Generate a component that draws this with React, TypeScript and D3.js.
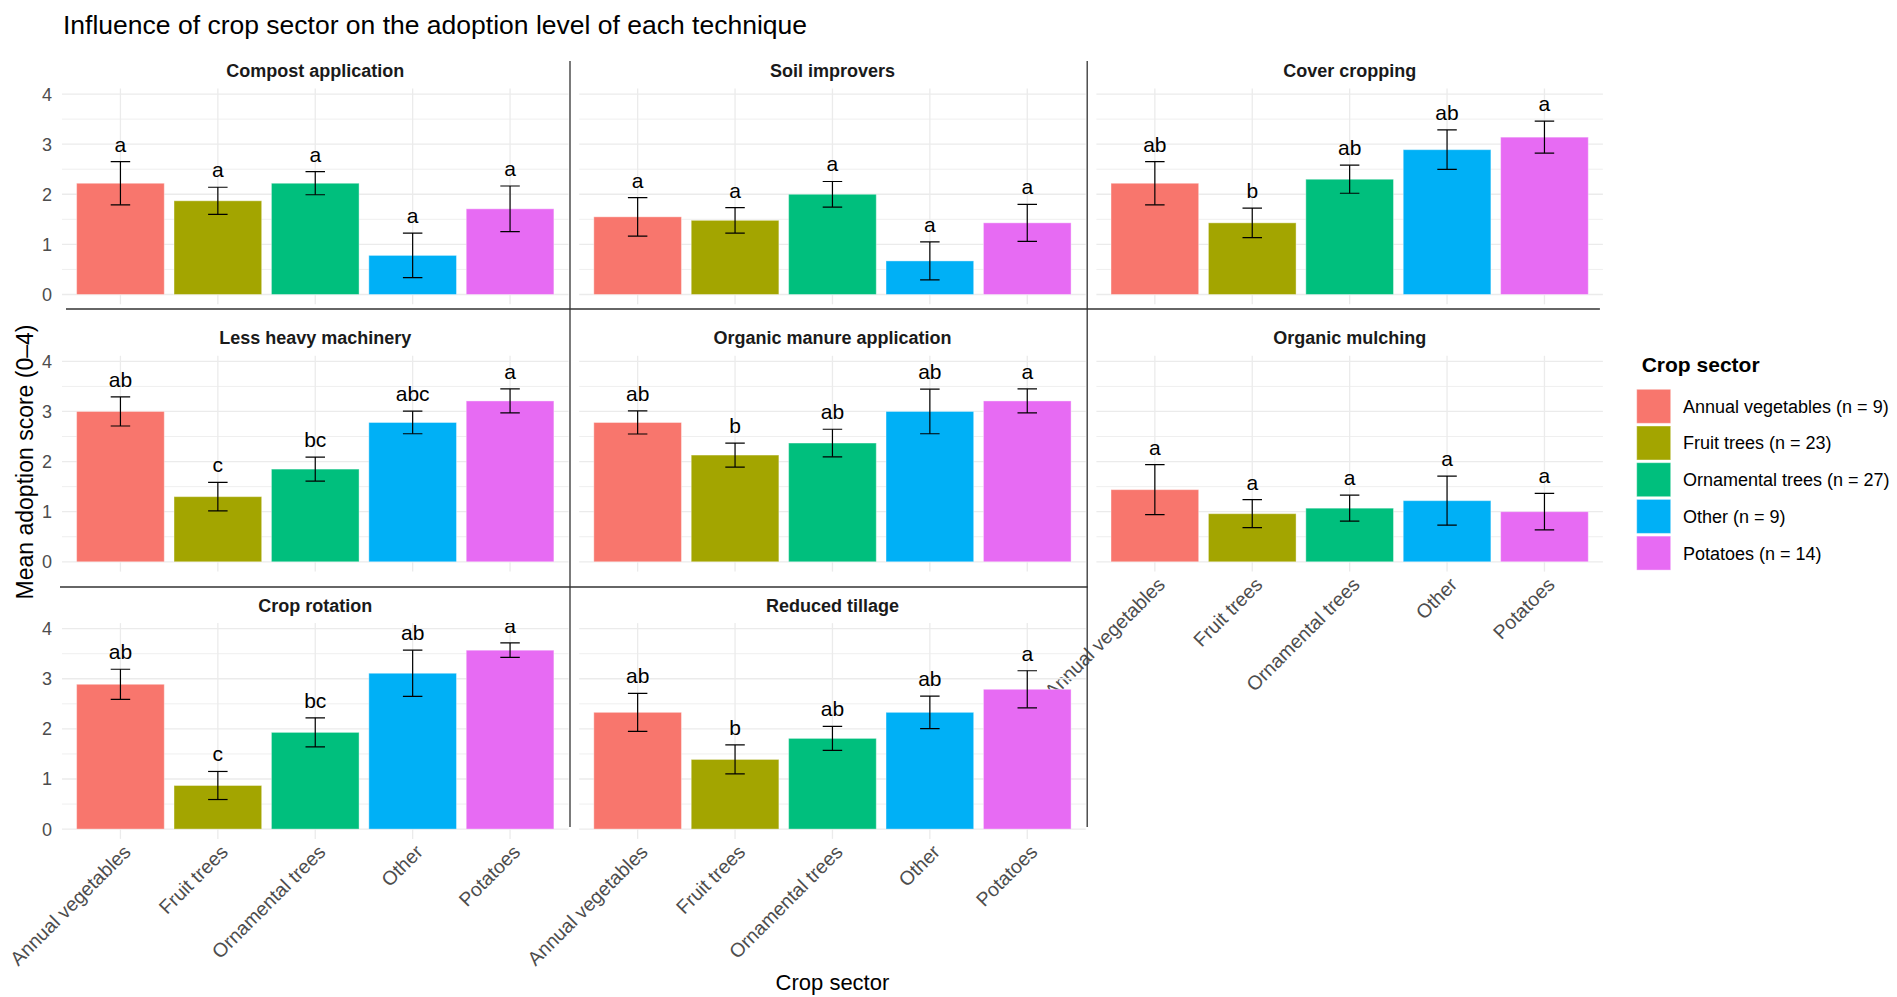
import { useEffect, useRef } from "react";
import * as d3 from "d3";

// Crop sectors (x categories / fill)
const SECTORS = ["Annual vegetables", "Fruit trees", "Ornamental trees", "Other", "Potatoes"];
const SECTOR_N = [9, 23, 27, 9, 14];
const SECTOR_COLORS = ["#F8766D", "#A3A500", "#00BF7D", "#00B0F6", "#E76BF3"];

// Facets, in reading order
const TECHNIQUES = [
  "Compost application",
  "Soil improvers",
  "Cover cropping",
  "Less heavy machinery",
  "Organic manure application",
  "Organic mulching",
  "Crop rotation",
  "Reduced tillage"
];

// Mean adoption score per technique (rows) and sector (columns)
const MEANS = [
  [2.22, 1.87, 2.22, 0.78, 1.71],
  [1.55, 1.48, 2.00, 0.67, 1.43],
  [2.22, 1.43, 2.30, 2.89, 3.14],
  [3.00, 1.30, 1.85, 2.78, 3.21],
  [2.78, 2.13, 2.37, 3.00, 3.21],
  [1.44, 0.96, 1.07, 1.22, 1.00],
  [2.89, 0.87, 1.93, 3.11, 3.57],
  [2.33, 1.39, 1.81, 2.33, 2.79]
];

// Standard errors
const SE = [
  [0.43, 0.27, 0.23, 0.445, 0.455],
  [0.385, 0.255, 0.255, 0.38, 0.37],
  [0.43, 0.295, 0.28, 0.395, 0.32],
  [0.29, 0.285, 0.24, 0.225, 0.24],
  [0.23, 0.24, 0.275, 0.445, 0.24],
  [0.50, 0.28, 0.26, 0.49, 0.365],
  [0.30, 0.28, 0.29, 0.46, 0.145],
  [0.38, 0.29, 0.24, 0.325, 0.37]
];

// Compact letter display
const LETTERS = [
  ["a", "a", "a", "a", "a"],
  ["a", "a", "a", "a", "a"],
  ["ab", "b", "ab", "ab", "a"],
  ["ab", "c", "bc", "abc", "a"],
  ["ab", "b", "ab", "ab", "a"],
  ["a", "a", "a", "a", "a"],
  ["ab", "c", "bc", "ab", "a"],
  ["ab", "b", "ab", "ab", "a"]
];

const Y_TICKS = [0, 1, 2, 3, 4];
const Y_MINOR = [0.5, 1.5, 2.5, 3.5];
const LABEL_OFFSET = 0.2;

const WIDTH = 1897;
const HEIGHT = 997;
const FONT = "'Liberation Sans', Arial, Helvetica, sans-serif";
const N_COLS = 3;

const App = () => {
  const svgRef = useRef<SVGSVGElement>(null);

  useEffect(() => {
    if (!svgRef.current) return;
    const svg = d3.select(svgRef.current);
    svg.selectAll("*").remove();

    // panel grid geometry
    const left = 62;
    const top = 88.5;
    const panelW = 506.5;
    const panelH = 215.8;
    const colStep = 517.2;
    const rowStep = 267.3;

    // fixed y scale shared by all facets (ggplot-like 5% expansion)
    const maxLabel = d3.max(MEANS.flatMap((row, i) => row.map((m, j) => m + SE[i][j] + LABEL_OFFSET))) as number;
    const lo = 0 - maxLabel * 0.05;
    const hi = maxLabel + maxLabel * 0.05;

    const xScale = d3
      .scaleBand<string>()
      .domain(SECTORS)
      .range([0, panelW])
      .paddingInner(0.1)
      .paddingOuter(0.15);

    const yScale = d3.scaleLinear().domain([lo, hi]).range([panelH, 0]);

    const colorScale = d3.scaleOrdinal<string, string>().domain(SECTORS).range(SECTOR_COLORS);

    svg.append("rect").attr("width", WIDTH).attr("height", HEIGHT).attr("fill", "#ffffff");

    // Title
    svg
      .append("text")
      .attr("x", 63)
      .attr("y", 34)
      .style("font-family", FONT)
      .style("font-size", "26.5px")
      .attr("fill", "#000")
      .text("Influence of crop sector on the adoption level of each technique");

    const defs = svg.append("defs");
    defs
      .append("clipPath")
      .attr("id", "panel-clip")
      .append("rect")
      .attr("x", 0)
      .attr("y", 0)
      .attr("width", panelW)
      .attr("height", panelH);

    const nRows = Math.ceil(TECHNIQUES.length / N_COLS);

    TECHNIQUES.forEach((tech, k) => {
      const col = k % N_COLS;
      const row = Math.floor(k / N_COLS);
      const px = left + col * colStep;
      const py = top + row * rowStep;
      const g = svg.append("g").attr("transform", `translate(${px},${py})`);

      // grid
      g.selectAll(".minor")
        .data(Y_MINOR)
        .enter()
        .append("line")
        .attr("x1", 0)
        .attr("x2", panelW)
        .attr("y1", (d) => yScale(d))
        .attr("y2", (d) => yScale(d))
        .attr("stroke", "#EFEFEF")
        .attr("stroke-width", 1);

      g.selectAll(".major")
        .data(Y_TICKS)
        .enter()
        .append("line")
        .attr("x1", 0)
        .attr("x2", panelW)
        .attr("y1", (d) => yScale(d))
        .attr("y2", (d) => yScale(d))
        .attr("stroke", "#EBEBEB")
        .attr("stroke-width", 1.3);

      g.selectAll(".vgrid")
        .data(SECTORS)
        .enter()
        .append("line")
        .attr("x1", (d) => (xScale(d) ?? 0) + xScale.bandwidth() / 2)
        .attr("x2", (d) => (xScale(d) ?? 0) + xScale.bandwidth() / 2)
        .attr("y1", 0)
        .attr("y2", panelH)
        .attr("stroke", "#EBEBEB")
        .attr("stroke-width", 1.3);

      const rows = SECTORS.map((s, j) => ({
        sector: s,
        mean: MEANS[k][j],
        se: SE[k][j],
        letter: LETTERS[k][j]
      }));

      // bars
      g.selectAll(".bar")
        .data(rows)
        .enter()
        .append("rect")
        .attr("x", (d) => xScale(d.sector) ?? 0)
        .attr("width", xScale.bandwidth())
        .attr("y", (d) => yScale(d.mean))
        .attr("height", (d) => yScale(0) - yScale(d.mean))
        .attr("fill", (d) => colorScale(d.sector))
        .attr("stroke", "#ffffff")
        .attr("stroke-opacity", 0.4)
        .attr("stroke-width", 1);

      // error bars + letters (clipped to the panel, like ggplot)
      const cap = xScale.step() * 0.2;
      const eb = g.append("g").attr("clip-path", "url(#panel-clip)");
      rows.forEach((d) => {
        const cx = (xScale(d.sector) ?? 0) + xScale.bandwidth() / 2;
        const yTop = yScale(d.mean + d.se);
        const yBot = yScale(d.mean - d.se);
        eb.append("line")
          .attr("x1", cx)
          .attr("x2", cx)
          .attr("y1", yTop)
          .attr("y2", yBot)
          .attr("stroke", "#000")
          .attr("stroke-width", 1.2);
        [yTop, yBot].forEach((yy) => {
          eb.append("line")
            .attr("x1", cx - cap / 2)
            .attr("x2", cx + cap / 2)
            .attr("y1", yy)
            .attr("y2", yy)
            .attr("stroke", "#000")
            .attr("stroke-width", 1.2);
        });
        eb.append("text")
          .attr("x", cx)
          .attr("y", yScale(d.mean + d.se + LABEL_OFFSET))
          .attr("text-anchor", "middle")
          .style("font-family", FONT)
          .style("font-size", "21px")
          .attr("fill", "#000")
          .text(d.letter);
      });

      // strip title
      g.append("text")
        .attr("x", panelW / 2)
        .attr("y", -11.5)
        .attr("text-anchor", "middle")
        .style("font-family", FONT)
        .style("font-size", "18px")
        .style("font-weight", "700")
        .attr("fill", "#1A1A1A")
        .text(tech);

      // y axis labels on the first column
      if (col === 0) {
        g.selectAll(".ytick")
          .data(Y_TICKS)
          .enter()
          .append("text")
          .attr("x", -10)
          .attr("y", (d) => yScale(d))
          .attr("dy", "0.36em")
          .attr("text-anchor", "end")
          .style("font-family", FONT)
          .style("font-size", "18px")
          .attr("fill", "#4D4D4D")
          .text((d) => String(d));
      }

      // x axis labels on the lowest panel of each column
      const lastInCol = k + N_COLS >= TECHNIQUES.length;
      if (lastInCol || row === nRows - 1) {
        g.selectAll(".xtick")
          .data(SECTORS)
          .enter()
          .append("text")
          .attr("transform", (d) => {
            const cx = (xScale(d) ?? 0) + xScale.bandwidth() / 2 + 1;
            return `translate(${cx},${panelH + 4}) rotate(-45)`;
          })
          .attr("dy", "0.75em")
          .attr("text-anchor", "end")
          .style("font-family", FONT)
          .style("font-size", "19.5px")
          .attr("fill", "#4D4D4D")
          .text((d) => d);
      }
    });

    // separator lines between facets
    const lineColor = "#333333";
    const bottom3 = top + 2 * rowStep + yScale(0) - 2;
    [left + panelW + 1.5, left + colStep + panelW + 1.5].forEach((x) => {
      svg.append("line")
        .attr("x1", x)
        .attr("x2", x)
        .attr("y1", top - 27.5)
        .attr("y2", bottom3)
        .attr("stroke", lineColor)
        .attr("stroke-width", 1.3);
    });
    svg.append("line")
      .attr("x1", left + 4)
      .attr("x2", left + 2 * colStep + panelW - 3)
      .attr("y1", top + panelH + 4.7)
      .attr("y2", top + panelH + 4.7)
      .attr("stroke", lineColor)
      .attr("stroke-width", 1.3);
    svg.append("line")
      .attr("x1", left - 2)
      .attr("x2", left + colStep + panelW + 2)
      .attr("y1", top + rowStep + panelH + 15.4)
      .attr("y2", top + rowStep + panelH + 15.4)
      .attr("stroke", lineColor)
      .attr("stroke-width", 1.3);

    // axis titles
    svg.append("text")
      .attr("transform", "translate(33,462) rotate(-90)")
      .attr("text-anchor", "middle")
      .style("font-family", FONT)
      .style("font-size", "23px")
      .attr("fill", "#000")
      .text("Mean adoption score (0–4)");

    svg.append("text")
      .attr("x", left + (2 * colStep + panelW) / 2)
      .attr("y", 990)
      .attr("text-anchor", "middle")
      .style("font-family", FONT)
      .style("font-size", "22px")
      .attr("fill", "#000")
      .text("Crop sector");

    // legend
    const legend = svg.append("g").attr("transform", "translate(1636.7,389.3)");
    legend.append("text")
      .attr("x", 5)
      .attr("y", -17.5)
      .style("font-family", FONT)
      .style("font-size", "21px")
      .style("font-weight", "700")
      .attr("fill", "#000")
      .text("Crop sector");

    SECTORS.forEach((s, i) => {
      const yPos = i * 36.7;
      legend.append("rect")
        .attr("x", 0)
        .attr("y", yPos)
        .attr("width", 34)
        .attr("height", 34)
        .attr("fill", colorScale(s))
        .attr("stroke", "#ffffff")
        .attr("stroke-opacity", 0.4)
        .attr("stroke-width", 1);
      legend.append("text")
        .attr("x", 46.3)
        .attr("y", yPos + 17)
        .attr("dy", "0.36em")
        .style("font-family", FONT)
        .style("font-size", "18px")
        .attr("fill", "#000")
        .text(`${s} (n = ${SECTOR_N[i]})`);
    });
  }, []);

  return (
    <svg
      ref={svgRef}
      width={WIDTH}
      height={HEIGHT}
      style={{ position: "fixed", left: 0, top: 0, background: "#fff" }}
    />
  );
};

export default App;
